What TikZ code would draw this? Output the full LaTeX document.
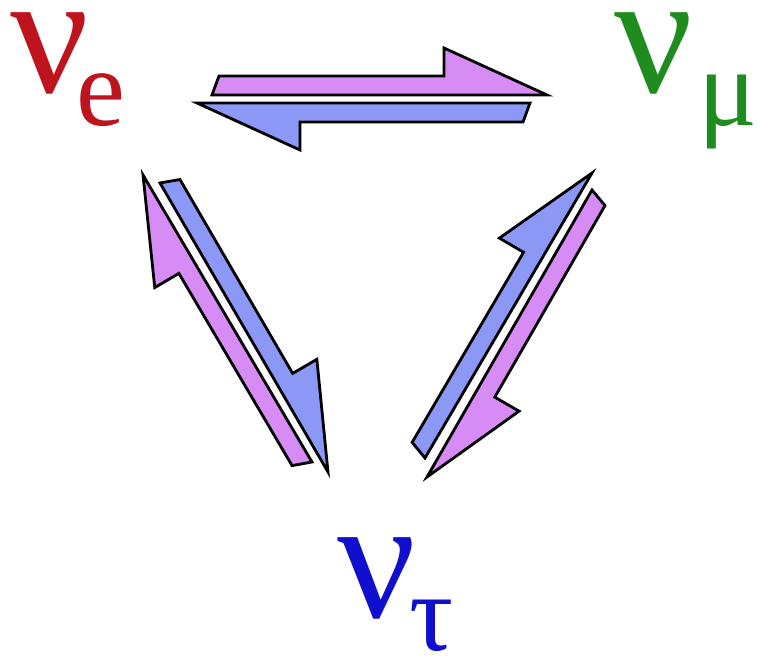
\documentclass[tikz,border=0pt]{standalone}
\usepackage{fontspec}
\setmainfont{Liberation Serif}
\usetikzlibrary{calc}

\definecolor{nured}{RGB}{190,20,30}
\definecolor{nugreen}{RGB}{30,140,30}
\definecolor{nublue}{RGB}{15,15,205}
\definecolor{arrviolet}{RGB}{214,140,244}
\definecolor{arrblue}{RGB}{140,152,245}

% half arrow: #1 fill, #2 tail, #3 tip (barb on the left)
\newcommand{\halfarrow}[3]{%
  \draw[halfarr, fill=#1] (#2) -- (#3)
    -- ($($(#3)!103pt!(#2)$)!47pt!-90:(#2)$)
    -- ($($(#3)!103pt!(#2)$)!19pt!-90:(#2)$)
    -- ($($(#2)!7pt!(#3)$)!19pt!90:(#3)$) -- cycle;}

% neutrino label: #1 kern, #2 subscript
\newcommand{\flavour}[2]{%
  {\fontsize{174}{174}\selectfont ν}\hspace{#1}%
  \raisebox{-33pt}{\fontsize{110}{110}\selectfont #2}}

\begin{document}
\begin{tikzpicture}[x=1pt, y=-1pt]
  % Define arrow and label style
  \tikzstyle{halfarr} = [draw=black, line width=2.8pt, line join=miter]
  \tikzstyle{flav} = [inner sep=0pt, anchor=base west]

  \useasboundingbox (0,0) rectangle (761,664);

  \node[flav, text=nured]   (nue)   at (10,92)   {\flavour{-12pt}{e}};
  \node[flav, text=nugreen] (numu)  at (614,92)  {\flavour{6pt}{μ}};
  \node[flav, text=nublue]  (nutau) at (337,617) {\flavour{-6pt}{τ}};

  % ends of the arrows
  \coordinate (eTop)  at (212,95);  \coordinate (muTop) at (547,95);
  \coordinate (muBot) at (530,103); \coordinate (eBot)  at (197,103);
  \coordinate (tL1) at (312,462);   \coordinate (eL1)  at (143,175);
  \coordinate (eL2) at (160,183);   \coordinate (tL2)  at (328,472);
  \coordinate (tR1) at (425,458);   \coordinate (muR1) at (592,173);
  \coordinate (muR2) at (592,190);  \coordinate (tR2) at (427,477);

  \halfarrow{arrviolet}{eTop}{muTop}
  \halfarrow{arrblue}{muBot}{eBot}
  \halfarrow{arrviolet}{tL1}{eL1}
  \halfarrow{arrblue}{eL2}{tL2}
  \halfarrow{arrblue}{tR1}{muR1}
  \halfarrow{arrviolet}{muR2}{tR2}
\end{tikzpicture}
\end{document}
